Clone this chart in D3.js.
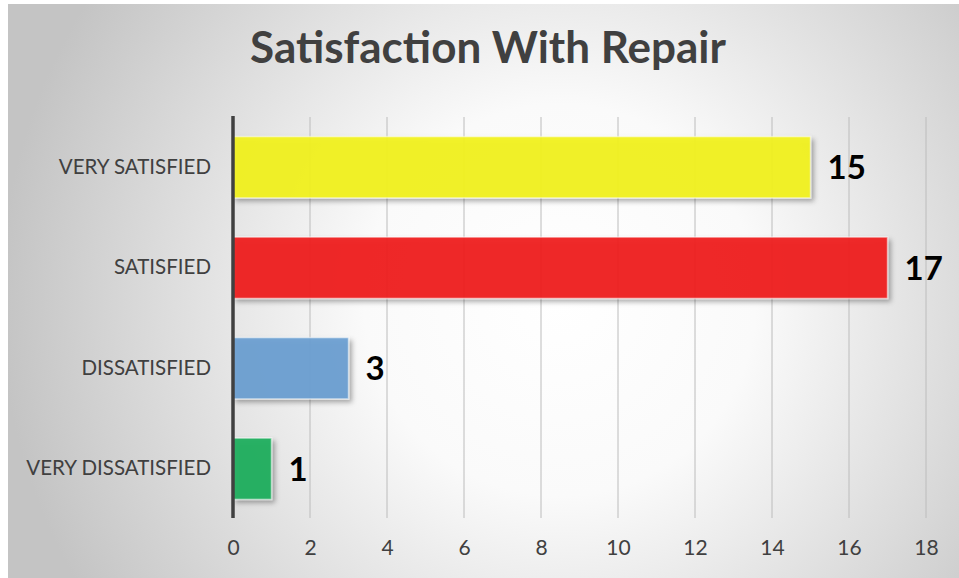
<!DOCTYPE html>
<html>
<head>
<meta charset="utf-8">
<script src="https://cdn.jsdelivr.net/npm/d3@7"></script>
<style>
  html, body { margin: 0; padding: 0; background: #fff; }
  svg { display: block; font-family: Lato, "Open Sans", sans-serif; }
</style>
</head>
<body>
<div id="chart"></div>
<script>
// ─── DATA ───────────────────────────────────────────────────────────────────────
const categories = ['VERY SATISFIED', 'SATISFIED', 'DISSATISFIED', 'VERY DISSATISFIED'];
const counts = [15, 17, 3, 1];
const barColors = ['#f2f21c', '#f01c1c', '#6a9fd2', '#1eae5e'];
const xTicks = [0, 2, 4, 6, 8, 10, 12, 14, 16, 18];

const data = categories.map((c, i) => ({ cat: c, value: counts[i], color: barColors[i] }));

// ─── SIZE ───────────────────────────────────────────────────────────────────────
const W = 959, H = 578;
const margin = { top: 117, right: 33, bottom: 60, left: 233 };
const width = W - margin.left - margin.right;
const height = H - margin.top - margin.bottom;

const svg = d3.select('#chart').append('svg')
  .attr('width', W)
  .attr('height', H);

// background gradient + shadow filter
const defs = svg.append('defs');
const grad = defs.append('radialGradient')
  .attr('id', 'bg')
  .attr('gradientUnits', 'userSpaceOnUse')
  .attr('cx', 560).attr('cy', 300).attr('r', 560);
grad.append('stop').attr('offset', '0%').attr('stop-color', '#ffffff');
grad.append('stop').attr('offset', '35%').attr('stop-color', '#fafafa');
grad.append('stop').attr('offset', '100%').attr('stop-color', '#c4c4c4');

const shadow = defs.append('filter').attr('id', 'shadow')
  .attr('x', '-20%').attr('y', '-20%').attr('width', '150%').attr('height', '150%');
shadow.append('feDropShadow')
  .attr('dx', 3).attr('dy', 3).attr('stdDeviation', 2.5)
  .attr('flood-color', '#000').attr('flood-opacity', 0.35);

svg.append('rect')
  .attr('x', 8).attr('y', 4)
  .attr('width', W - 8).attr('height', H - 4)
  .attr('fill', 'url(#bg)');

// title
svg.append('text')
  .attr('x', 488)
  .attr('y', 63)
  .attr('text-anchor', 'middle')
  .attr('font-size', 44)
  .attr('font-weight', 'bold')
  .attr('fill', '#404040')
  .text('Satisfaction With Repair');

const g = svg.append('g').attr('transform', `translate(${margin.left},${margin.top})`);

// ─── SCALES ─────────────────────────────────────────────────────────────────────
const x = d3.scaleLinear().domain([0, 18]).range([0, 693]);
const y = d3.scaleBand().domain(categories).range([0, height + 1]).paddingInner(0.39).paddingOuter(0.195);

// gridlines
g.append('g')
  .selectAll('line')
  .data(xTicks.slice(1))
  .join('line')
  .attr('x1', d => x(d)).attr('x2', d => x(d))
  .attr('y1', 0).attr('y2', height)
  .attr('stroke', '#bcbcbc')
  .attr('stroke-width', 1);

// x axis labels
const xAxis = g.append('g')
  .attr('transform', `translate(0,${height})`)
  .call(d3.axisBottom(x).tickValues(xTicks).tickSize(0).tickPadding(22));
xAxis.select('.domain').remove();
xAxis.selectAll('text')
  .attr('font-family', 'Lato, "Open Sans", sans-serif')
  .attr('font-size', 21)
  .attr('fill', '#404040');

// y axis labels
const yAxis = g.append('g')
  .call(d3.axisLeft(y).tickSize(0).tickPadding(22));
yAxis.select('.domain').remove();
yAxis.selectAll('text')
  .attr('font-family', 'Lato, "Open Sans", sans-serif')
  .attr('font-size', 20.5)
  .attr('fill', '#404040');

// ─── BARS ───────────────────────────────────────────────────────────────────────
g.append('g')
  .selectAll('rect')
  .data(data)
  .join('rect')
  .attr('x', 0)
  .attr('y', d => y(d.cat))
  .attr('width', d => x(d.value))
  .attr('height', y.bandwidth())
  .attr('fill', d => d.color)
  .attr('fill-opacity', 0.93)
  .attr('stroke', '#ffffff')
  .attr('stroke-opacity', 0.5)
  .attr('stroke-width', 1.5)
  .attr('filter', 'url(#shadow)');

// value labels
g.append('g')
  .selectAll('text')
  .data(data)
  .join('text')
  .attr('x', d => x(d.value) + 17)
  .attr('y', d => y(d.cat) + y.bandwidth() / 2 + 12)
  .attr('font-size', 33)
  .attr('font-weight', 'bold')
  .attr('fill', '#000')
  .text(d => d.value);

// axis line at zero
g.append('line')
  .attr('x1', 0).attr('x2', 0)
  .attr('y1', -1).attr('y2', height)
  .attr('stroke', '#404040')
  .attr('stroke-width', 3.5);
</script>
</body>
</html>
